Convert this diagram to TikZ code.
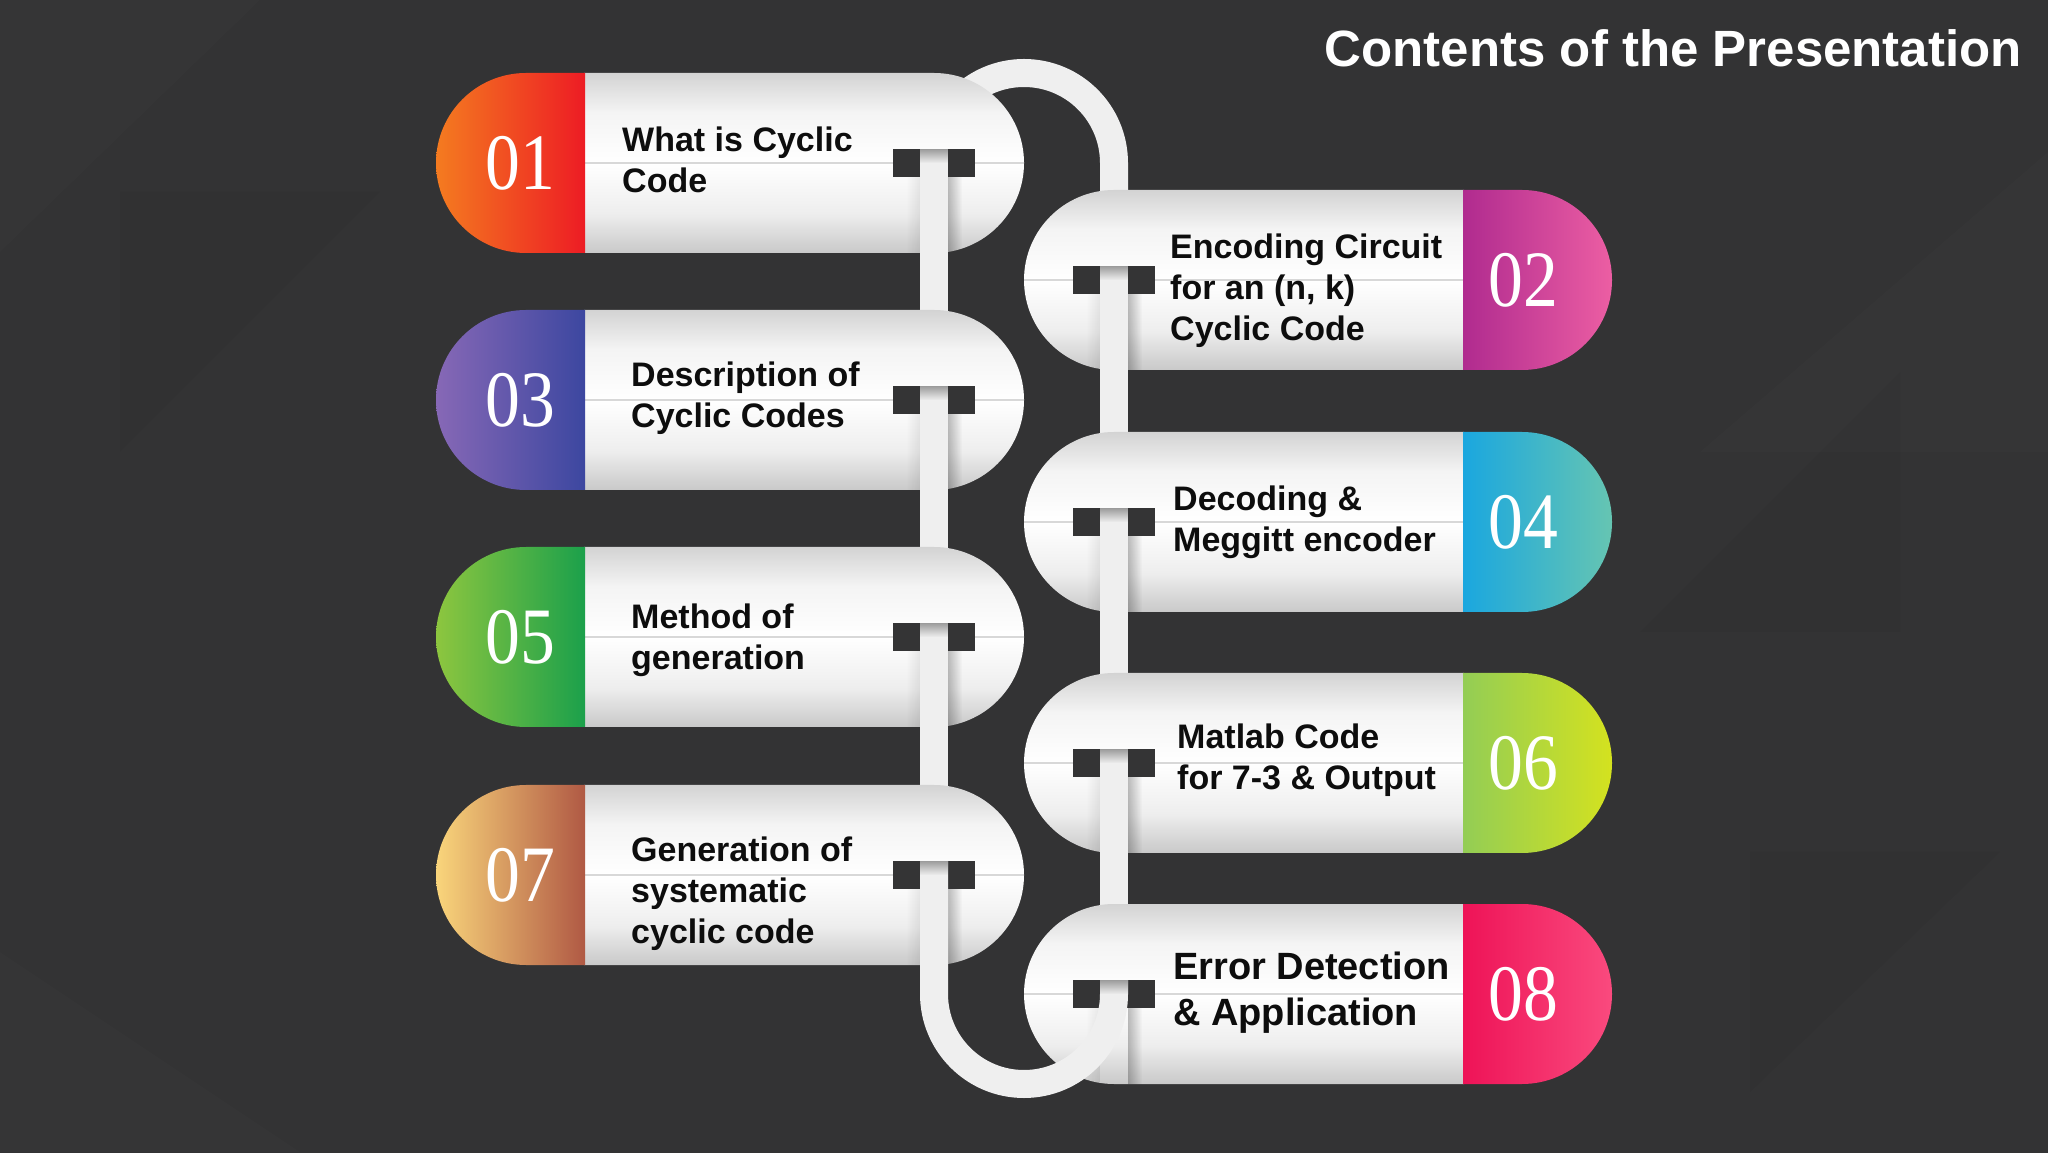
\documentclass[tikz,border=0pt]{standalone}
\usepackage{fontspec}
\setmainfont{Liberation Sans}
\newfontfamily\numfont{Liberation Serif}
\usetikzlibrary{fadings}
\definecolor{bgc}{HTML}{333334}
\definecolor{slotc}{HTML}{343435}
\definecolor{chainc}{HTML}{EFEFEF}
\definecolor{pbot}{HTML}{C9C9C9}
\definecolor{plow}{HTML}{EEEEEE}
\definecolor{phigh}{HTML}{F4F4F4}
\definecolor{ptop}{HTML}{D3D3D3}
\definecolor{plinec}{HTML}{D8D8D8}
\definecolor{txtc}{HTML}{0D0D0D}
\definecolor{aA}{HTML}{F47B20}\definecolor{aB}{HTML}{ED1C24}
\definecolor{bA}{HTML}{B02B8F}\definecolor{bB}{HTML}{EC5EA3}
\definecolor{cA}{HTML}{8768B6}\definecolor{cB}{HTML}{3C47A0}
\definecolor{dA}{HTML}{1AA7DF}\definecolor{dB}{HTML}{66C5B2}
\definecolor{eA}{HTML}{8DC63F}\definecolor{eB}{HTML}{1BA04B}
\definecolor{fA}{HTML}{93CD55}\definecolor{fB}{HTML}{D4E21F}
\definecolor{gA}{HTML}{F9D57B}\definecolor{gB}{HTML}{B05944}
\definecolor{hA}{HTML}{EE1357}\definecolor{hB}{HTML}{FA4A7E}
\pgfdeclareverticalshading{pillsh}{100bp}{color(0bp)=(pbot); color(25bp)=(pbot); color(36bp)=(plow); color(50bp)=(white); color(64bp)=(phigh); color(75bp)=(ptop); color(100bp)=(ptop)}
\tikzset{
  chainline/.style={line width=28pt, color=chainc, line cap=butt},
  pillline/.style={line width=1.5pt, color=plinec},
  numtext/.style={text=white, inner sep=0pt, font=\numfont\fontsize{80}{80}\selectfont},
  itemtext/.style={anchor=west, align=left, text=txtc, inner sep=0pt, font=\bfseries\fontsize{34}{41}\selectfont},
  titletext/.style={text=white, inner sep=0pt, font=\bfseries\fontsize{51}{60}\selectfont},
}
% #1 number, #2 centre y, #3 colour A, #4 colour B, #5 text position, #6 text, #7 extra text options
\newcommand\LPill[7]{%
  \shade[shading=pillsh] (584,#2-90) -- (934,#2-90) arc (-90:90:90) -- (584,#2+90) -- cycle;
  \begin{scope}
    \clip (584,#2-90) -- (934,#2-90) arc (-90:90:90) -- (584,#2+90) -- cycle;
    \draw[pillline] (584,#2) -- (1030,#2);
    \fill[black, opacity=0.25, path fading=east] (948,#2-91) rectangle (962,#2-14);
    \fill[black, opacity=0.08, path fading=west] (906,#2-91) rectangle (920,#2-14);
  \end{scope}
  \shade[left color=#3, right color=#4] (585,#2+90) -- (526,#2+90) arc (90:270:90) -- (585,#2-90) -- cycle;
  \node[numtext] (n#1) at (520,#2) {\scalebox{0.87}[1]{#1}};
  \node[itemtext,#7] (t#1) at (#5) {#6};
  \fill[slotc] (893,#2-14) rectangle (975,#2+14);
  \coordinate (c#1) at (934,#2);
  \coordinate (s#1) at (934,#2+14);
}
\newcommand\RPill[7]{%
  \shade[shading=pillsh] (1464,#2+90) -- (1114,#2+90) arc (90:270:90) -- (1464,#2-90) -- cycle;
  \begin{scope}
    \clip (1464,#2+90) -- (1114,#2+90) arc (90:270:90) -- (1464,#2-90) -- cycle;
    \draw[pillline] (1018,#2) -- (1464,#2);
    \fill[black, opacity=0.25, path fading=east] (1128,#2-91) rectangle (1142,#2-14);
    \fill[black, opacity=0.08, path fading=west] (1086,#2-91) rectangle (1100,#2-14);
  \end{scope}
  \shade[left color=#3, right color=#4] (1463,#2-90) -- (1522,#2-90) arc (-90:90:90) -- (1463,#2+90) -- cycle;
  \node[numtext] (n#1) at (1523,#2) {\scalebox{0.87}[1]{#1}};
  \node[itemtext,#7] (t#1) at (#5) {#6};
  \fill[slotc] (1073,#2-14) rectangle (1155,#2+14);
  \coordinate (c#1) at (1114,#2);
  \coordinate (s#1) at (1114,#2+14);
}
\newcommand\SlotTop[1]{%
  \fill[black, opacity=0.35, path fading=south] ([xshift=-14pt]#1) rectangle ([xshift=14pt,yshift=-14pt]#1);
}
\begin{document}
\begin{tikzpicture}[x=1pt,y=1pt]
  \useasboundingbox (0,0) rectangle (2048,1152);
  \fill[bgc] (-6,-6) rectangle (2054,1158);
  % faint background triangles
  \fill[white, opacity=0.012] (0,1152) -- (260,1152) -- (0,900) -- cycle;
  \fill[black, opacity=0.03] (120,700) -- (380,960) -- (120,960) -- cycle;
  \fill[white, opacity=0.012] (1700,700) -- (2048,700) -- (2048,1000) -- cycle;
  \fill[black, opacity=0.03] (1750,300) -- (2000,300) -- (1750,60) -- cycle;
  \fill[white, opacity=0.01] (0,200) -- (300,0) -- (0,0) -- cycle;
  \fill[black, opacity=0.03] (1640,520) -- (1900,520) -- (1900,780) -- cycle;

  \node[titletext, anchor=east] (title) at (2022,1104) {Contents of the Presentation};

  % top arch (behind pills 01 and 02)
  \coordinate (archL) at (934,989);
  \coordinate (archR) at (1114,872);
  \draw[chainline] (archL) arc (180:0:90) -- (archR);

  \LPill{01}{989}{aA}{aB}{622,992}{What is Cyclic\\Code}{}
  \draw[chainline] (s01) -- (934,752);
  \SlotTop{s01}

  \RPill{02}{872}{bA}{bB}{1170,861}{Encoding Circuit\\for an (n, k)\\Cyclic Code}{}
  \draw[chainline] (s02) -- (1114,630);
  \SlotTop{s02}

  \LPill{03}{752}{cA}{cB}{631,754}{Description of\\Cyclic Codes}{}
  \draw[chainline] (s03) -- (934,515);
  \SlotTop{s03}

  \RPill{04}{630}{dA}{dB}{1173,630}{Decoding \&\\Meggitt encoder}{}
  \draw[chainline] (s04) -- (1114,389);
  \SlotTop{s04}

  \LPill{05}{515}{eA}{eB}{631,512}{Method of\\generation}{}
  \draw[chainline] (s05) -- (934,277);
  \SlotTop{s05}

  \RPill{06}{389}{fA}{fB}{1177,392}{Matlab Code\\for 7-3 \& Output}{}
  \draw[chainline] (s06) -- (1114,158);
  \SlotTop{s06}

  \LPill{07}{277}{gA}{gB}{631,258}{Generation of\\systematic\\cyclic code}{}
  \RPill{08}{158}{hA}{hB}{1173,159}{Error Detection\\\& Application}{font=\bfseries\fontsize{38}{46}\selectfont}

  % bottom U joining the two chains
  \draw[chainline] (s07) -- (c07 |- c08) arc (180:360:90) -- (s08);
  \SlotTop{s07}
  \SlotTop{s08}
\end{tikzpicture}
\end{document}
